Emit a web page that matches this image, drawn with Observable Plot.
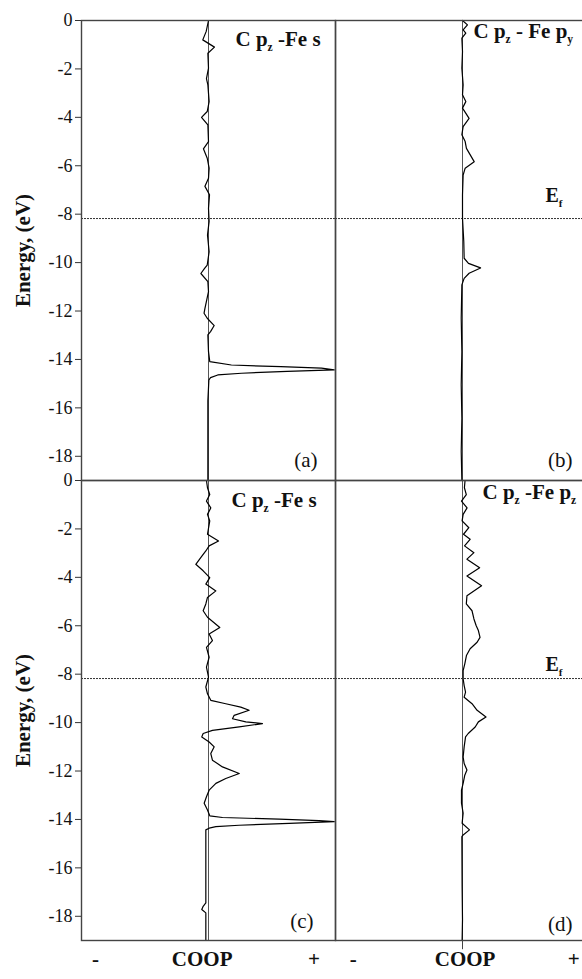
<!DOCTYPE html>
<html>
<head>
<meta charset="utf-8">
<script src="https://cdn.jsdelivr.net/npm/d3@7"></script>
<script src="https://cdn.jsdelivr.net/npm/@observablehq/plot@0.6"></script>
<style>
  html, body { margin: 0; padding: 0; background: #fff; overflow: hidden; }
  #chart { width: 582px; height: 979px; overflow: hidden; }
  #chart svg { max-width: none !important; }
</style>
</head>
<body>
<div id="chart"></div>
<script>
// ---------- data (energy in eV, COOP in arbitrary units) ----------
const panelA = [[0,0],[-0.45,-0.018],[-0.8,-0.045],[-1.1,0.047],[-1.35,-0.005],[-1.97,0],[-2.4,-0.016],[-2.66,-0.005],[-3.35,0.005],[-3.76,-0.01],[-4.0,-0.055],[-4.31,-0.005],[-5.0,0],[-5.3,-0.04],[-5.69,-0.01],[-6.1,0.005],[-6.52,0],[-6.85,-0.028],[-7.2,0.008],[-7.76,0],[-8.3,0.005],[-8.86,-0.008],[-9.55,0.005],[-10.1,-0.01],[-10.24,-0.031],[-10.45,-0.06],[-10.79,-0.005],[-11.2,0],[-11.89,-0.028],[-12.09,-0.035],[-12.3,-0.01],[-12.6,0.045],[-12.85,0.016],[-12.99,-0.005],[-13.68,0],[-14.09,0.01],[-14.23,0.18],[-14.3,0.57],[-14.36,0.89],[-14.43,0.99],[-14.49,0.62],[-14.57,0.26],[-14.64,0.073],[-14.75,0.016],[-14.85,0.003],[-15.7,-0.005],[-19,-0.005]];
const panelB = [[0,0],[-0.18,0.039],[-0.39,0.005],[-0.52,0.026],[-0.73,-0.005],[-1.28,0],[-1.97,-0.005],[-2.66,0.005],[-3.07,0],[-3.35,0.026],[-3.62,0],[-4.04,0.052],[-4.38,0.005],[-4.72,-0.005],[-5.0,0.021],[-5.28,0.031],[-5.83,0.092],[-6.1,0.021],[-6.38,0.005],[-7.2,0],[-8.17,0],[-9.13,0.01],[-9.82,0.013],[-10.03,0.047],[-10.22,0.142],[-10.44,0.052],[-10.65,0.013],[-10.92,-0.005],[-12.3,-0.01],[-13.68,-0.005],[-15.05,-0.01],[-16.43,-0.005],[-17.8,-0.01],[-19,-0.005]];
const panelC = [[0,-0.016],[-0.3,-0.008],[-0.58,0.01],[-0.85,-0.016],[-1.13,0.018],[-1.4,-0.008],[-1.67,0.01],[-2.22,-0.008],[-2.5,0.079],[-2.7,0.005],[-2.91,-0.021],[-3.19,-0.061],[-3.46,-0.1],[-3.73,-0.042],[-4.01,0.01],[-4.28,-0.021],[-4.56,0.058],[-4.83,-0.008],[-5.1,-0.021],[-5.38,-0.042],[-5.65,-0.008],[-6.07,0.089],[-6.34,0.005],[-6.61,0.031],[-6.89,-0.016],[-7.3,0.005],[-7.71,-0.016],[-8.12,0],[-8.53,-0.021],[-8.81,-0.008],[-9.08,0.018],[-9.22,0.136],[-9.36,0.254],[-9.49,0.32],[-9.7,0.202],[-9.84,0.189],[-9.97,0.294],[-10.04,0.425],[-10.18,0.242],[-10.32,0.031],[-10.45,-0.042],[-10.59,-0.053],[-10.8,0.005],[-11.0,0.045],[-11.28,0.018],[-11.55,0.031],[-11.83,0.11],[-12.1,0.242],[-12.31,0.136],[-12.51,0.058],[-12.79,0.005],[-13.06,-0.016],[-13.33,-0.034],[-13.61,-0.008],[-13.85,0.01],[-13.92,0.11],[-13.99,0.556],[-14.05,0.87],[-14.09,0.99],[-14.16,0.635],[-14.24,0.24],[-14.3,0.058],[-14.36,0.005],[-14.43,-0.021],[-17.45,-0.021],[-17.59,-0.042],[-17.72,-0.053],[-17.86,-0.021],[-19,-0.021]];
const panelD = [[0,0.02],[-0.3,0.015],[-0.58,0.03],[-0.85,-0.008],[-1.13,0.036],[-1.4,0.005],[-1.67,-0.003],[-1.95,0.05],[-2.22,0.008],[-2.43,0.06],[-2.7,0.016],[-2.98,0.09],[-3.25,0.035],[-3.6,0.135],[-3.94,0.035],[-4.35,0.15],[-4.76,0.035],[-5.1,0.03],[-5.38,0.075],[-5.72,0.09],[-6.0,0.108],[-6.2,0.125],[-6.48,0.138],[-6.68,0.115],[-6.95,0.06],[-7.23,0.031],[-7.57,0.018],[-7.85,0.005],[-8.19,0.005],[-8.47,0.013],[-8.74,0.024],[-8.95,0.013],[-9.22,0.075],[-9.49,0.115],[-9.77,0.185],[-9.97,0.125],[-10.18,0.1],[-10.45,0.045],[-10.59,0.024],[-11.0,0.013],[-11.42,0.005],[-11.69,0.013],[-11.96,0.035],[-12.17,0.018],[-12.51,0.005],[-12.79,-0.008],[-13.33,-0.008],[-13.74,0.005],[-14.16,-0.003],[-14.43,0.055],[-14.64,0.005],[-14.71,-0.005],[-16.77,-0.003],[-18.14,0],[-19,-0.003]];

const panelIds = ["a", "b", "c", "d"];
const panelCols = ["left", "right", "left", "right"];
const panelRows = ["top", "top", "bottom", "bottom"];
const panelTitles = ["C p_z -Fe s", "C p_z - Fe p_y", "C p_z -Fe s", "C p_z -Fe p_z"];
const panelLetters = ["(a)", "(b)", "(c)", "(d)"];
const fermiLevel = -8.18;
const fermiLabel = "E_f";
const yTicks = [0, -2, -4, -6, -8, -10, -12, -14, -16, -18];
const yTitle = "Energy, (eV)";
const xLabels = ["-", "COOP", "+"];

// ---------- table built from the arrays ----------
const series = [panelA, panelB, panelC, panelD];
const curves = series.flatMap((pts, i) =>
  pts.map(([energy, coop]) => ({panel: panelIds[i], col: panelCols[i], row: panelRows[i], energy, coop}))
);

const serif = "Liberation Serif";
function note(text, col, row, opts) {
  return Plot.text([text], {text: d => d, fx: () => col, fy: () => row, fontFamily: serif, fill: "#111", ...opts});
}

const titleDx = [154, 138, 150, 147];
const titleDy = [25, 17, 26, 18.5];
const letterDx = [-18, -17, -22, -17];
const letterDy = [-13.5, -13.5, -13, -9.5];
const xLabelPos = {left: [-0.89, -0.05, 0.83], right: [-0.86, 0.02, 0.875]};

const marks = [
  Plot.ruleY([fermiLevel], {stroke: "#333", strokeWidth: 1, strokeDasharray: "2,1"}),
  Plot.ruleX([0], {stroke: "#555", strokeWidth: 1}),
  Plot.line(curves, {x: "coop", y: "energy", z: "panel", fx: "col", fy: "row",
    stroke: "#000", strokeWidth: 1.2, curve: "linear"}),
  Plot.frame({stroke: "#444", strokeWidth: 1.4}),
  Plot.axisY({ticks: yTicks, tickSize: 6, tickPadding: 3, fontSize: 18, label: null,
    tickFormat: d => String(d), fontFamily: serif, stroke: "#333"}),
  Plot.ruleX([0], {fx: () => "right", fy: () => "bottom", y1: -19, y2: -19.38, stroke: "#444", strokeWidth: 1}),
  note(yTitle, "left", "top", {frameAnchor: "left", textAnchor: "middle", lineAnchor: "middle", dx: -58, rotate: -90, fontSize: 21, fontWeight: "bold"}),
  note(yTitle, "left", "bottom", {frameAnchor: "left", textAnchor: "middle", lineAnchor: "middle", dx: -58, rotate: -90, fontSize: 21, fontWeight: "bold"})
];

panelIds.forEach((id, i) => {
  marks.push(note(panelTitles[i], panelCols[i], panelRows[i], {
    frameAnchor: "top-left", textAnchor: "start", lineAnchor: "bottom",
    dx: titleDx[i], dy: titleDy[i], fontSize: 21, fontWeight: "bold"}));
  marks.push(note(panelLetters[i], panelCols[i], panelRows[i], {
    frameAnchor: "bottom-right", textAnchor: "end", lineAnchor: "bottom",
    dx: letterDx[i], dy: letterDy[i], fontSize: 21}));
});

marks.push(note(fermiLabel, "right", "top", {frameAnchor: "top-left", textAnchor: "start", lineAnchor: "bottom", dx: 210, dy: 181, fontSize: 20, fontWeight: "bold"}));
marks.push(note(fermiLabel, "right", "bottom", {frameAnchor: "top-left", textAnchor: "start", lineAnchor: "bottom", dx: 210, dy: 190.5, fontSize: 20, fontWeight: "bold"}));

["left", "right"].forEach(col => {
  xLabels.forEach((t, i) => {
    marks.push(note(t, col, "bottom", {x: xLabelPos[col][i], frameAnchor: "bottom", textAnchor: "middle", lineAnchor: "bottom",
      dy: 25, fontSize: 21, fontWeight: "bold"}));
  });
});

const chart = Plot.plot({
  width: 589,
  height: 979,
  marginLeft: 81,
  marginRight: 0,
  marginTop: 19,
  marginBottom: 39,
  style: {fontFamily: serif, background: "#fff", overflow: "visible", color: "#111", maxWidth: "none"},
  x: {domain: [-1, 1], axis: null},
  y: {domain: [-19, 0]},
  fx: {domain: ["left", "right"], padding: 0, axis: null},
  fy: {domain: ["top", "bottom"], padding: 0, axis: null},
  marks
});

// subscripts: "_x" -> small lowered x
const svgNS = "http://www.w3.org/2000/svg";
d3.select(chart).selectAll("text").each(function () {
  const raw = this.textContent;
  if (!raw.includes("_")) return;
  const parts = raw.split(/_(.)/);
  while (this.firstChild) this.removeChild(this.firstChild);
  let lowered = false;
  parts.forEach((p, i) => {
    if (!p) return;
    const ts = document.createElementNS(svgNS, "tspan");
    ts.textContent = p;
    if (i % 2 === 1) {
      ts.setAttribute("font-size", "55%");
      ts.setAttribute("dy", "5");
      lowered = true;
    } else if (lowered) {
      ts.setAttribute("dy", "-5");
      lowered = false;
    }
    this.appendChild(ts);
  });
});

document.getElementById("chart").appendChild(chart);
</script>
</body>
</html>
